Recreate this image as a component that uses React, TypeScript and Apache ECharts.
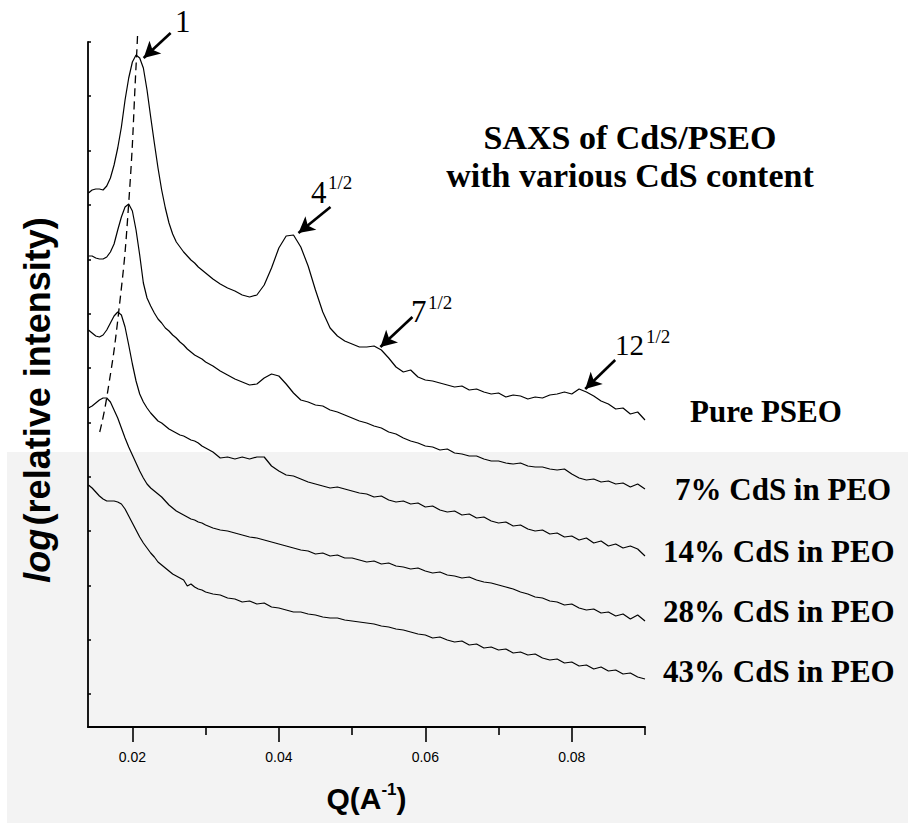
import React, { useEffect, useRef } from "react";
import * as echarts from "echarts";

// Scattering vector Q (1/Å) sampled along every trace
const q = [
  0.014, 0.0145, 0.015, 0.0155, 0.016, 0.0165, 0.017, 0.0175, 0.018, 0.0185,
  0.019, 0.0195, 0.02, 0.0205, 0.021, 0.0215, 0.022, 0.0225, 0.023, 0.0235,
  0.024, 0.0245, 0.025, 0.0255, 0.026, 0.0265, 0.027, 0.0275, 0.028, 0.0285,
  0.029, 0.0295, 0.03,
  0.031, 0.032, 0.033, 0.034, 0.035, 0.036, 0.037, 0.038, 0.039, 0.04,
  0.041, 0.042, 0.043, 0.044, 0.045, 0.046, 0.047, 0.048, 0.049, 0.05,
  0.051, 0.052, 0.053, 0.054, 0.055, 0.056, 0.057, 0.058, 0.059, 0.06,
  0.061, 0.062, 0.063, 0.064, 0.065, 0.066, 0.067, 0.068, 0.069, 0.07,
  0.071, 0.072, 0.073, 0.074, 0.075, 0.076, 0.077, 0.078, 0.079, 0.08,
  0.081, 0.082, 0.083, 0.084, 0.085, 0.086, 0.087, 0.088, 0.089, 0.09,
];

// log(relative intensity), traces stacked with vertical offsets
const purePSEO = [
  5.34, 5.37, 5.38, 5.38, 5.37, 5.41, 5.49, 5.62, 5.79, 6.0,
  6.27, 6.49, 6.65, 6.72, 6.69, 6.59, 6.37, 6.1, 5.84, 5.59,
  5.37, 5.19, 5.04, 4.93, 4.85, 4.8, 4.75, 4.71, 4.67, 4.64,
  4.6, 4.57, 4.54,
  4.48, 4.43, 4.39, 4.36, 4.32, 4.3, 4.32, 4.42, 4.59, 4.79,
  4.91, 4.92, 4.8, 4.61, 4.37, 4.15, 3.99, 3.91, 3.86, 3.83,
  3.8, 3.8, 3.81, 3.77, 3.69, 3.6, 3.55, 3.57, 3.5, 3.47,
  3.46, 3.44, 3.42, 3.4, 3.41, 3.37, 3.38, 3.35, 3.33, 3.34,
  3.3, 3.32, 3.31, 3.28, 3.3, 3.29, 3.32, 3.33, 3.35, 3.33,
  3.38, 3.35, 3.31, 3.26, 3.23, 3.18, 3.19, 3.13, 3.15, 3.07,
];

const cds7 = [
  4.71, 4.71, 4.69, 4.68, 4.68, 4.7, 4.75, 4.83, 4.97, 5.1,
  5.2, 5.23, 5.16, 4.97, 4.72, 4.44, 4.29, 4.21, 4.14, 4.08,
  4.04, 3.99, 3.96, 3.92, 3.89, 3.85, 3.82, 3.78, 3.75, 3.72,
  3.7, 3.68, 3.65,
  3.61, 3.56, 3.52, 3.48, 3.45, 3.42, 3.43, 3.49, 3.53, 3.51,
  3.43, 3.34, 3.27, 3.25, 3.22, 3.21, 3.17, 3.15, 3.12, 3.09,
  3.06, 3.04, 3.01, 2.99, 2.95, 2.93, 2.89, 2.86, 2.84, 2.81,
  2.8, 2.77, 2.78, 2.74, 2.73, 2.71, 2.71, 2.68, 2.66, 2.66,
  2.64, 2.63, 2.64, 2.61, 2.6, 2.6, 2.58, 2.57, 2.58, 2.53,
  2.49, 2.47, 2.48, 2.45, 2.46, 2.43, 2.44, 2.4, 2.43, 2.38,
];

const cds14 = [
  3.97, 3.94, 3.91, 3.9, 3.92, 3.97, 4.04, 4.11, 4.15, 4.12,
  4.0, 3.82, 3.63, 3.46, 3.33, 3.25, 3.19, 3.14, 3.1, 3.06,
  3.04, 3.01, 2.98, 2.96, 2.94, 2.92, 2.91, 2.89, 2.87, 2.86,
  2.84, 2.81, 2.79,
  2.75, 2.69, 2.7, 2.68, 2.7, 2.68, 2.7, 2.7, 2.61, 2.56,
  2.52, 2.51, 2.48, 2.45, 2.43, 2.41, 2.39, 2.4, 2.38, 2.36,
  2.34, 2.33, 2.3, 2.31, 2.27, 2.25, 2.26, 2.23, 2.24, 2.2,
  2.21, 2.17, 2.15, 2.16, 2.12, 2.13, 2.09, 2.1, 2.06, 2.04,
  2.05, 2.01, 2.02, 1.98, 1.96, 1.97, 1.93, 1.94, 1.9, 1.91,
  1.87, 1.89, 1.84, 1.86, 1.81, 1.83, 1.79, 1.81, 1.78, 1.71,
];

const cds28 = [
  3.19, 3.21, 3.24, 3.27, 3.29, 3.29, 3.25, 3.17, 3.09, 2.99,
  2.89, 2.8, 2.72, 2.64, 2.56, 2.49, 2.43, 2.39, 2.36, 2.33,
  2.3, 2.26, 2.22, 2.19, 2.16, 2.14, 2.12, 2.1, 2.08, 2.07,
  2.05, 2.04, 2.02,
  1.99, 1.97, 1.96, 1.94, 1.92, 1.9, 1.89, 1.87, 1.85, 1.83,
  1.81, 1.79, 1.77, 1.76, 1.73, 1.74, 1.71, 1.72, 1.69, 1.69,
  1.67, 1.65, 1.66, 1.63, 1.64, 1.61, 1.6, 1.58, 1.59, 1.56,
  1.54, 1.55, 1.52, 1.51, 1.49, 1.5, 1.47, 1.45, 1.44, 1.42,
  1.4, 1.38, 1.35, 1.33, 1.3, 1.29, 1.26, 1.25, 1.22, 1.23,
  1.19, 1.17, 1.18, 1.14, 1.15, 1.11, 1.13, 1.08, 1.12, 1.06,
];

const cds43 = [
  2.42, 2.39, 2.35, 2.31, 2.28, 2.26, 2.26, 2.26, 2.25, 2.23,
  2.18, 2.11, 2.04, 1.97, 1.9, 1.84, 1.79, 1.74, 1.7, 1.65,
  1.62, 1.59, 1.56, 1.53, 1.51, 1.49, 1.47, 1.41, 1.43, 1.4,
  1.38, 1.37, 1.35,
  1.33, 1.32, 1.29, 1.28, 1.25, 1.26, 1.23, 1.24, 1.2, 1.19,
  1.17, 1.15, 1.15, 1.13, 1.12, 1.1, 1.09, 1.09, 1.07, 1.06,
  1.05, 1.04, 1.03, 1.01, 1.0, 0.98, 0.97, 0.95, 0.93, 0.92,
  0.89, 0.9, 0.87, 0.85, 0.86, 0.82, 0.83, 0.79, 0.8, 0.77,
  0.78, 0.74, 0.75, 0.72, 0.73, 0.69, 0.67, 0.68, 0.64, 0.65,
  0.61, 0.62, 0.58, 0.6, 0.56, 0.57, 0.53, 0.54, 0.5, 0.48,
];

const sampleNames = [
  "Pure PSEO",
  "7% CdS in PEO",
  "14% CdS in PEO",
  "28% CdS in PEO",
  "43% CdS in PEO",
];
const sampleTraces = [purePSEO, cds7, cds14, cds28, cds43];

// First-order peak positions, joined by the dashed guide
const peakQ = [0.01554, 0.01649, 0.01813, 0.01949, 0.02058, 0.02072];
const peakV = [2.95, 3.29, 4.15, 5.23, 6.72, 6.94];

// Arrows marking the reflections: [tail Q, tail v, head Q, head v]
const reflectionArrows = [
  [0.02522, 6.94, 0.02154, 6.69],
  [0.04705, 5.2, 0.04268, 4.94],
  [0.05824, 4.1, 0.05387, 3.8],
  [0.08593, 3.67, 0.08184, 3.38],
];
const reflectionBase = ["1", "4", "7", "12"];
const reflectionExp = ["", "1/2", "1/2", "1/2"];

const xMajorTicks = [0.02, 0.04, 0.06, 0.08];
const xMinorTicks = [0.03, 0.05, 0.07, 0.09];
const yTicks = [0.33, 0.87, 1.41, 1.96, 2.5, 3.04, 3.59, 4.13, 4.67, 5.22, 5.76, 6.31, 6.85];

const Q_MIN = 0.01394;
const Q_MAX = 0.09;

const serif = '"Liberation Serif", "Times New Roman", serif';
const sans = '"Liberation Sans", Arial, sans-serif';
const narrow = '"Liberation Sans Narrow", "Liberation Sans", Arial, sans-serif';

// Text placement (pixels)
const reflectionTextPos = [
  { bx: 175, by: 21, ex: 0, ey: 0, size: 31 },
  { bx: 311, by: 192, ex: 328, ey: 182, size: 31 },
  { bx: 411, by: 311, ex: 428, ey: 302, size: 31 },
  { bx: 615, by: 345, ex: 646, ey: 336, size: 29 },
];
const sideLabelPos = [
  { x: 690, y: 411 },
  { x: 675, y: 489 },
  { x: 663, y: 551 },
  { x: 663, y: 611 },
  { x: 663, y: 671 },
];

function buildOption(): echarts.EChartsOption {
  const curves = sampleTraces.map((trace, i) => ({
    name: sampleNames[i],
    type: "line" as const,
    xAxisIndex: 0,
    yAxisIndex: 0,
    data: q.map((qq, j) => [qq, trace[j]]),
    showSymbol: false,
    symbol: "none",
    smooth: false,
    clip: false,
    lineStyle: { color: "#000", width: 1.2 },
    z: 3,
  }));

  const guide = {
    name: "peak",
    type: "line" as const,
    xAxisIndex: 0,
    yAxisIndex: 0,
    data: peakQ.map((qq, j) => [qq, peakV[j]]),
    showSymbol: false,
    symbol: "none",
    smooth: true,
    clip: false,
    lineStyle: { color: "#000", width: 1.3, type: [8, 5] as any },
    z: 4,
    markLine: {
      silent: true,
      symbol: ["none", "arrow"],
      symbolSize: [13, 16],
      label: { show: false },
      lineStyle: { color: "#000", width: 2.6, type: "solid" as const },
      data: reflectionArrows.map((a) => [
        { coord: [a[0], a[1]] },
        { coord: [a[2], a[3]] },
      ]) as any,
    },
  };

  const texts: any[] = [];
  reflectionBase.forEach((b, i) => {
    const p = reflectionTextPos[i];
    texts.push({
      type: "text",
      x: p.bx,
      y: p.by,
      style: {
        text: b,
        fill: "#000",
        fontFamily: serif,
        fontSize: p.size,
        align: "left",
        verticalAlign: "middle",
      },
    });
    if (reflectionExp[i]) {
      texts.push({
        type: "text",
        x: p.ex,
        y: p.ey,
        style: {
          text: reflectionExp[i],
          fill: "#000",
          fontFamily: serif,
          fontSize: 19,
          align: "left",
          verticalAlign: "middle",
        },
      });
    }
  });
  sampleNames.forEach((n, i) => {
    texts.push({
      type: "text",
      x: sideLabelPos[i].x,
      y: sideLabelPos[i].y,
      style: {
        text: n,
        fill: "#000",
        fontFamily: serif,
        fontWeight: "bold",
        fontSize: 31,
        align: "left",
        verticalAlign: "middle",
      },
    });
  });
  ["SAXS of CdS/PSEO", "with various CdS content"].forEach((t, i) => {
    texts.push({
      type: "text",
      x: 630,
      y: 137 + i * 38,
      style: {
        text: t,
        fill: "#000",
        fontFamily: serif,
        fontWeight: "bold",
        fontSize: 34,
        align: "center",
        verticalAlign: "middle",
      },
    });
  });
  // Vertical axis title
  texts.push({
    type: "text",
    x: 37,
    y: 400,
    rotation: Math.PI / 2,
    style: {
      text: "{i|log} {n|(relative intensity)}",
      fill: "#000",
      align: "center",
      verticalAlign: "middle",
      rich: {
        i: { fontFamily: sans, fontWeight: "bold", fontStyle: "italic", fontSize: 36, fill: "#000" },
        n: { fontFamily: sans, fontWeight: "bold", fontSize: 36, fill: "#000" },
      },
    },
  });

  return {
    animation: false,
    backgroundColor: "#ffffff",
    grid: [
      { left: 88, right: 263, top: 12, bottom: 96 },
      { left: 88, right: 263, top: 42, bottom: 96 },
    ],
    xAxis: [
      {
        type: "value",
        gridIndex: 0,
        min: Q_MIN,
        max: Q_MAX,
        axisLine: { show: true, onZero: false, lineStyle: { color: "#000", width: 2 } },
        axisTick: {
          show: true,
          inside: false,
          length: 15,
          customValues: xMajorTicks,
          lineStyle: { color: "#000", width: 1.6 },
        } as any,
        axisLabel: {
          show: true,
          customValues: xMajorTicks,
          formatter: (v: number) => v.toFixed(2),
          fontFamily: narrow,
          fontSize: 14,
          color: "#000",
          margin: 23,
        } as any,
        splitLine: { show: false },
        name: "{b|Q(A}{s|-1}{b|)}",
        nameLocation: "middle",
        nameGap: 54,
        nameTextStyle: {
          rich: {
            b: { fontFamily: narrow, fontWeight: "bold", fontSize: 30, color: "#000", lineHeight: 34 },
            s: { fontFamily: narrow, fontWeight: "bold", fontSize: 17, color: "#000", verticalAlign: "top", lineHeight: 34 },
          },
        },
      },
      {
        type: "value",
        gridIndex: 0,
        position: "bottom",
        min: Q_MIN,
        max: Q_MAX,
        axisLine: { show: false, onZero: false },
        axisTick: {
          show: true,
          inside: false,
          length: 8,
          customValues: xMinorTicks,
          lineStyle: { color: "#000", width: 1.6 },
        } as any,
        axisLabel: { show: false },
        splitLine: { show: false },
      },
      {
        type: "value",
        gridIndex: 1,
        min: Q_MIN,
        max: Q_MAX,
        show: false,
      },
    ],
    yAxis: [
      {
        type: "value",
        gridIndex: 0,
        min: 0,
        max: 7.15,
        show: false,
      },
      {
        type: "value",
        gridIndex: 1,
        min: 0,
        max: 6.85,
        axisLine: { show: true, onZero: false, lineStyle: { color: "#000", width: 1.8 } },
        axisTick: {
          show: true,
          inside: true,
          length: 3,
          customValues: yTicks,
          lineStyle: { color: "#000", width: 1.5 },
        } as any,
        axisLabel: { show: false },
        splitLine: { show: false },
      },
    ],
    graphic: {
      elements: [
        {
          type: "rect",
          z: -100,
          silent: true,
          shape: { x: 7, y: 452, width: 901, height: 371 },
          style: { fill: "#f3f3f3" },
        },
        ...texts,
      ],
    },
    series: [...curves, guide],
  };
}

export default function App() {
  const ref = useRef<HTMLDivElement>(null);
  useEffect(() => {
    if (!ref.current) return;
    const chart = echarts.init(ref.current, undefined, { renderer: "svg" });
    chart.setOption(buildOption());
    return () => chart.dispose();
  }, []);
  return (
    <div
      ref={ref}
      style={{ position: "absolute", left: 0, top: 0, width: 908, height: 823, background: "#fff" }}
    />
  );
}
